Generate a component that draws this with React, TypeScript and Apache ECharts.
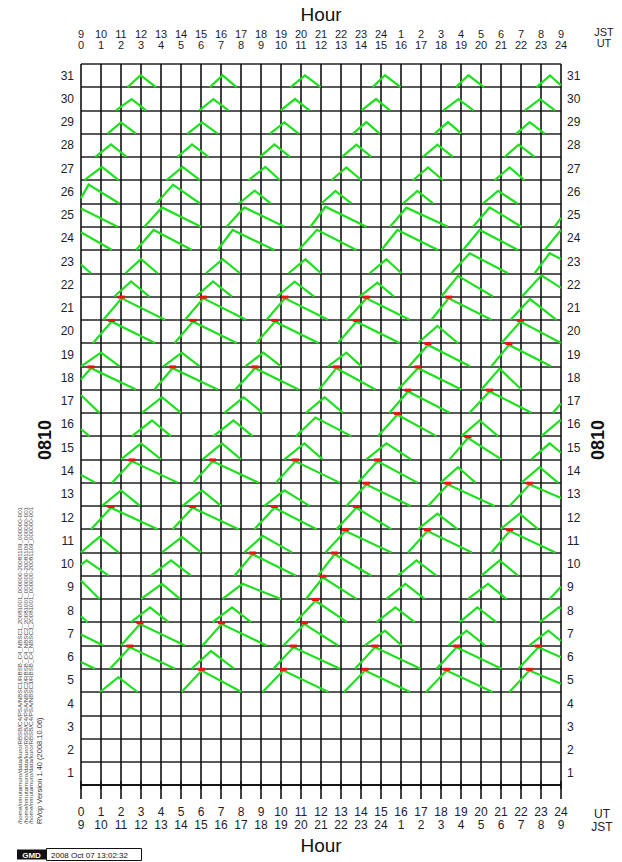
import React, { useEffect, useRef } from "react";
import * as echarts from "echarts";

const UT_LABELS = ["0","1","2","3","4","5","6","7","8","9","10","11","12","13","14","15","16","17","18","19","20","21","22","23","24"];
const JST_LABELS = ["9","10","11","12","13","14","15","16","17","18","19","20","21","22","23","24","1","2","3","4","5","6","7","8","9"];
const DAY_LABELS = ["1","2","3","4","5","6","7","8","9","10","11","12","13","14","15","16","17","18","19","20","21","22","23","24","25","26","27","28","29","30","31"];
const ROW_EDGES = [0,1,2,3,4,5,6,7,8,9,10,11,12,13,14,15,16,17,18,19,20,21,22,23,24,25,26,27,28,29,30,31];
const ROW_CENTERS = [0.5,1.5,2.5,3.5,4.5,5.5,6.5,7.5,8.5,9.5,10.5,11.5,12.5,13.5,14.5,15.5,16.5,17.5,18.5,19.5,20.5,21.5,22.5,23.5,24.5,25.5,26.5,27.5,28.5,29.5,30.5];

// each pass: [start UT, apex UT, apex height (fraction of the day row), end UT, red apex flag]
const D31 = [[2.33,2.98,0.51,3.75,0],[6.45,7.08,0.51,7.78,0],[10.48,11.2,0.51,11.98,0],[14.58,15.2,0.51,15.98,0],[18.75,19.37,0.51,20.15,0],[22.78,23.45,0.5,24.1,0]];
const D30 = [[1.75,2.53,0.49,3.25,0],[5.92,6.62,0.49,7.37,0],[9.98,10.7,0.49,11.42,0],[14.03,14.75,0.49,15.45,0],[18.12,18.87,0.49,19.62,0],[22.2,22.95,0.49,23.7,0]];
const D29 = [[1.33,2.0,0.49,2.75,0],[5.33,6.05,0.49,6.83,0],[9.45,10.17,0.49,10.88,0],[13.6,14.27,0.5,14.93,0],[17.68,18.35,0.5,19.02,0],[21.77,22.43,0.5,23.18,0]];
const D28 = [[0.72,1.5,0.54,2.28,0],[4.83,5.55,0.54,6.38,0],[8.95,9.67,0.54,10.45,0],[13.05,13.77,0.53,14.52,0],[17.1,17.82,0.53,18.6,0],[21.18,21.88,0.53,22.68,0]];
const D27 = [[0.17,1.05,0.57,1.88,0],[4.28,5.08,0.57,5.95,0],[8.38,9.22,0.57,9.95,0],[12.52,13.27,0.55,14.02,0],[16.6,17.35,0.55,18.1,0],[20.68,21.43,0.55,22.18,0]];
const D26 = [[-0.15,0.38,0.81,1.92,0],[3.77,4.6,0.81,5.95,0],[7.9,8.68,0.55,9.48,0],[12.02,12.72,0.54,13.52,0],[16.1,16.82,0.54,17.6,0],[20.1,20.85,0.54,21.82,0]];
const D25 = [[-1.0,-0.15,0.85,1.83,0],[3.17,4.05,0.83,6.0,0],[7.28,8.17,0.83,10.17,0],[11.47,12.22,0.86,14.27,0],[15.45,16.27,0.82,18.35,0],[19.6,20.43,0.83,22.02,0],[23.68,24.4,0.85,26.4,0]];
const D24 = [[-1.0,-0.2,0.86,1.55,0],[2.75,3.63,0.86,5.55,0],[6.83,7.58,0.86,9.67,0],[10.88,11.8,0.87,13.77,0],[15.02,15.82,0.86,17.85,0],[19.1,19.93,0.86,21.85,0],[23.18,24.0,0.86,26.0,0]];
const D23 = [[-1.1,-0.3,0.6,0.5,0],[2.22,3.0,0.61,3.83,0],[6.25,7.08,0.61,7.95,0],[10.38,11.22,0.6,12.0,0],[14.43,15.27,0.6,16.02,0],[18.52,19.43,0.86,21.35,0],[22.68,23.43,0.86,25.4,0]];
const D22 = [[1.67,2.5,0.65,3.42,0],[5.75,6.6,0.65,7.55,0],[9.8,10.68,0.64,11.66,0],[13.93,14.82,0.6,15.65,0],[18.02,18.85,0.89,20.6,0],[22.05,23.02,0.91,24.68,0]];
const D21 = [[1.12,2.03,0.92,4.2,1],[5.2,6.12,0.92,8.25,1],[9.28,10.2,0.92,12.35,1],[13.3,14.27,0.92,16.43,1],[17.52,18.38,0.92,20.52,1],[21.48,22.45,0.89,23.77,0]];
const D20 = [[0.6,1.53,0.92,3.7,1],[4.68,5.6,0.92,7.78,1],[8.77,9.7,0.92,11.87,1],[12.85,13.77,0.92,15.93,1],[16.85,17.82,0.74,18.85,0],[21.02,21.97,0.92,24.0,1]];
const D19 = [[0.0,1.0,0.59,1.93,0],[4.12,5.04,0.59,5.93,0],[8.22,9.12,0.59,10.0,0],[12.35,13.27,0.59,14.02,0],[16.4,17.35,0.92,19.45,1],[20.52,21.4,0.92,23.5,1]];
const D18 = [[-0.45,0.5,0.92,2.75,1],[3.67,4.58,0.92,6.83,1],[7.72,8.7,0.92,10.88,1],[11.9,12.77,0.92,14.72,1],[15.85,16.85,0.92,19.02,1],[20.02,20.93,0.9,22.02,0]];
const D17 = [[-1.0,-0.1,0.85,0.92,0],[3.05,4.05,0.67,5.0,0],[7.17,8.13,0.67,9.08,0],[11.25,12.18,0.67,13.1,0],[15.43,16.35,0.92,18.43,1],[19.43,20.43,0.92,22.52,1],[23.6,24.5,0.9,26.5,0]];
const D16 = [[-1.4,-0.5,0.67,0.42,0],[2.55,3.55,0.67,4.5,0],[6.62,7.62,0.67,8.58,0],[10.75,11.72,0.8,13.52,0],[14.85,15.82,0.92,17.77,1],[19.02,19.93,0.67,20.85,0],[23.02,23.95,0.67,24.9,0]];
const D15 = [[2.0,3.0,0.69,4.0,0],[6.08,7.05,0.69,8.0,0],[10.17,11.17,0.69,12.08,0],[14.27,15.27,0.69,16.5,0],[18.43,19.35,0.92,21.02,1],[22.52,23.43,0.69,24.4,0]];
const D14 = [[-2.2,-1.3,0.92,0.72,0],[1.55,2.55,0.92,4.83,1],[5.62,6.58,0.92,8.88,1],[9.75,10.72,0.92,12.93,1],[13.85,14.82,0.92,16.82,1],[17.98,18.85,0.66,19.72,0],[22.02,22.93,0.66,23.85,0]];
const D13 = [[1.05,2.0,0.67,2.95,0],[5.08,6.05,0.67,7.0,0],[9.17,10.17,0.67,11.42,0],[13.27,14.27,0.92,16.48,1],[17.35,18.35,0.92,20.68,1],[21.43,22.43,0.92,24.9,1]];
const D12 = [[0.5,1.5,0.92,3.83,1],[4.58,5.58,0.92,7.88,1],[8.67,9.67,0.92,11.78,1],[12.77,13.77,0.92,15.52,1],[16.85,17.82,0.67,18.82,0],[20.98,21.93,0.67,22.85,0]];
const D11 = [[0.0,0.92,0.67,1.88,0],[4.05,5.05,0.67,6.0,0],[8.17,9.08,0.71,10.55,0],[12.22,13.22,0.92,15.52,1],[16.35,17.32,0.92,19.55,1],[20.52,21.43,0.92,23.72,1]];
const D10 = [[-0.65,0.28,0.66,1.38,0],[3.5,4.5,0.66,5.5,0],[7.67,8.58,0.92,10.75,1],[11.85,12.68,0.92,14.52,1],[15.85,16.77,0.66,17.77,0],[20.02,20.93,0.66,21.85,0]];
const D09 = [[-1.1,-0.15,0.92,0.92,0],[3.0,4.05,0.65,4.95,0],[7.08,8.08,0.65,10.0,0],[11.25,12.1,0.92,13.77,1],[15.27,16.22,0.65,17.18,0],[19.35,20.35,0.65,21.27,0],[23.43,24.4,0.9,26.0,0]];
const D08 = [[-1.5,-0.5,0.65,0.33,0],[2.5,3.45,0.64,4.38,0],[6.58,7.55,0.64,8.5,0],[10.72,11.72,0.92,13.3,1],[14.77,15.72,0.64,16.68,0],[18.93,19.82,0.64,20.77,0],[22.93,23.9,0.65,24.8,0]];
const D07 = [[-2.0,-1.05,0.92,1.12,0],[2.0,2.95,0.92,5.2,1],[6.08,7.03,0.92,9.28,1],[10.12,11.17,0.92,12.85,1],[14.2,15.2,0.64,16.03,0],[18.37,19.28,0.64,20.2,0],[22.42,23.37,0.64,24.27,0]];
const D06 = [[-2.5,-1.5,0.92,0.7,0],[1.45,2.45,0.92,4.7,1],[5.53,6.5,0.76,7.65,0],[9.62,10.62,0.92,12.95,1],[13.7,14.7,0.92,16.98,1],[17.78,18.78,0.92,21.03,1],[21.87,22.87,0.92,25.3,1]];
const D05 = [[0.95,1.87,0.64,2.82,0],[5.03,6.03,0.92,8.03,1],[9.08,10.12,0.92,12.37,1],[13.15,14.2,0.92,16.45,1],[17.25,18.28,0.92,20.58,1],[21.42,22.42,0.92,25.0,1]];

const PASS_DAYS: [number, number[][]][] = [
  [31, D31], [30, D30], [29, D29], [28, D28], [27, D27], [26, D26], [25, D25], [24, D24], [23, D23],
  [22, D22], [21, D21], [20, D20], [19, D19], [18, D18], [17, D17], [16, D16], [15, D15], [14, D14],
  [13, D13], [12, D12], [11, D11], [10, D10], [9, D09], [8, D08], [7, D07], [6, D06], [5, D05],
];

const PATH_LINES = [
  "/home/nmutamuro/data/kuro/RBSB/C4/PSA/NBSC1/RBSB_C4_NBSC1_20081001_000000-20081109_000000-001",
  "/home/nmutamuro/data/kuro/RBSB/C4/PSA/NBSC2/RBSB_C4_NBSC2_20081001_000000-20081109_000000-001",
  "/home/nmutamuro/data/kuro/RBSB/C4/PSA/NBSC3/RBSB_C4_NBSC3_20081001_000000-20081109_000000-001",
];

const GREEN = "#1fe01f";
const INK = "#1d1d2b";
const FONT = "Liberation Sans, Arial, sans-serif";

function clipX(pts: number[][], lo: number, hi: number): number[][] {
  const out: number[][] = [];
  for (let i = 0; i < pts.length - 1; i++) {
    const [x1, y1] = pts[i];
    const [x2, y2] = pts[i + 1];
    if (x2 < lo || x1 > hi) continue;
    const f = (x: number) => (x2 === x1 ? y1 : y1 + ((y2 - y1) * (x - x1)) / (x2 - x1));
    const ax = Math.max(x1, lo);
    const bx = Math.min(x2, hi);
    const p1 = [ax, f(ax)];
    const p2 = [bx, f(bx)];
    if (!out.length || out[out.length - 1][0] !== p1[0]) out.push(p1);
    out.push(p2);
  }
  return out;
}

export default function App() {
  const ref = useRef<HTMLDivElement>(null);
  useEffect(() => {
    if (!ref.current) return;
    const chart = echarts.init(ref.current, null, { renderer: "svg" });
    const data: number[][] = [];
    PASS_DAYS.forEach(([day, passes]) => {
      passes.forEach((p) => data.push([p[0], p[1], p[2], p[3], p[4], day]));
    });
    const labelFont = { fontFamily: FONT, fontSize: 12, color: INK };
    const graphics: any[] = [
      { type: "text", x: 604, y: 32, style: { text: "JST", fontFamily: FONT, fontSize: 11, fill: INK, align: "center", verticalAlign: "middle" } },
      { type: "text", x: 604, y: 43, style: { text: "UT", fontFamily: FONT, fontSize: 11, fill: INK, align: "center", verticalAlign: "middle" } },
      { type: "text", x: 602, y: 813.5, style: { text: "UT", fontFamily: FONT, fontSize: 12, fill: INK, align: "center", verticalAlign: "middle" } },
      { type: "text", x: 602, y: 826.5, style: { text: "JST", fontFamily: FONT, fontSize: 12, fill: INK, align: "center", verticalAlign: "middle" } },
      { type: "text", x: 45, y: 440, rotation: Math.PI / 2, style: { text: "0810", fontFamily: FONT, fontSize: 18, fontWeight: "bold", fill: "#111", align: "center", verticalAlign: "middle" } },
      { type: "text", x: 598, y: 440, rotation: Math.PI / 2, style: { text: "0810", fontFamily: FONT, fontSize: 18, fontWeight: "bold", fill: "#111", align: "center", verticalAlign: "middle" } },
      { type: "text", x: 39.5, y: 824, rotation: Math.PI / 2, style: { text: "RVop Version 1.40 (2008.10.06)", fontFamily: FONT, fontSize: 7.5, fill: "#333", align: "left", verticalAlign: "middle" } },
      { type: "rect", shape: { x: 17, y: 849.5, width: 29, height: 10 }, style: { fill: "#111" } },
      { type: "text", x: 31.5, y: 855, style: { text: "GMD", fontFamily: FONT, fontSize: 8, fontWeight: "bold", fill: "#fff", align: "center", verticalAlign: "middle" } },
      { type: "rect", shape: { x: 46.5, y: 848.5, width: 95, height: 12 }, style: { fill: "none", stroke: "#111", lineWidth: 1 } },
      { type: "text", x: 51, y: 855, style: { text: "2008 Oct 07 13:02:32", fontFamily: FONT, fontSize: 8, fill: "#111", align: "left", verticalAlign: "middle" } },
    ];
    PATH_LINES.forEach((t, i) => {
      graphics.push({ type: "text", x: 19.5 + i * 5.5, y: 824, rotation: Math.PI / 2, style: { text: t, fontFamily: FONT, fontSize: 6.2, fill: "#444", align: "left", verticalAlign: "middle" } });
    });

    chart.setOption({
      animation: false,
      backgroundColor: "#ffffff",
      grid: { left: 81, top: 61, width: 480, height: 738, containLabel: false },
      xAxis: [
        {
          type: "value", position: "bottom", min: 0, max: 24, interval: 1,
          name: "Hour", nameLocation: "middle", nameGap: 35,
          nameTextStyle: { fontFamily: FONT, fontSize: 19, color: "#111" },
          axisLine: { show: true, lineStyle: { color: "#111", width: 1.5 } },
          axisTick: { show: true, length: 4, lineStyle: { color: "#111", width: 1.5 } },
          splitLine: { show: true, lineStyle: { color: "#111", width: 1.6 } },
          axisLabel: {
            ...labelFont, margin: 7, lineHeight: 12.5, showMinLabel: true, showMaxLabel: true,
            formatter: (v: number) => `${UT_LABELS[Math.round(v)]}\n${JST_LABELS[Math.round(v)]}`,
          },
        },
        {
          type: "value", position: "top", min: 0, max: 24, interval: 1,
          name: "Hour", nameLocation: "middle", nameGap: 38,
          nameTextStyle: { fontFamily: FONT, fontSize: 19, color: "#111" },
          axisLine: { show: true, lineStyle: { color: "#111", width: 1.5 } },
          axisTick: { show: true, length: 4, lineStyle: { color: "#111", width: 1.5 } },
          splitLine: { show: false },
          axisLabel: {
            ...labelFont, fontSize: 11, margin: 13, lineHeight: 11, showMinLabel: true, showMaxLabel: true,
            formatter: (v: number) => `${JST_LABELS[Math.round(v)]}\n${UT_LABELS[Math.round(v)]}`,
          },
        },
      ],
      yAxis: [
        {
          type: "value", position: "left", min: -0.6, max: 31,
          axisLine: { show: false },
          axisTick: { show: false, customValues: ROW_EDGES },
          splitLine: { show: true, lineStyle: { color: "#222", width: 1.5 } },
          axisLabel: {
            ...labelFont, margin: 7, customValues: ROW_CENTERS,
            formatter: (v: number) => DAY_LABELS[Math.round(v - 0.5)] ?? "",
          },
        },
        {
          type: "value", position: "right", min: -0.6, max: 31,
          axisLine: { show: false },
          axisTick: { show: false, customValues: ROW_EDGES },
          splitLine: { show: false },
          axisLabel: {
            ...labelFont, margin: 6, customValues: ROW_CENTERS,
            formatter: (v: number) => DAY_LABELS[Math.round(v - 0.5)] ?? "",
          },
        },
      ],
      series: [
        {
          type: "custom",
          xAxisIndex: 0,
          yAxisIndex: 0,
          silent: true,
          data,
          renderItem: (_params: any, api: any) => {
            const s = api.value(0), a = api.value(1), h = api.value(2), e = api.value(3);
            const red = api.value(4), day = api.value(5);
            const base = day - 1;
            const pts = clipX([[s, base], [a, base + h], [e, base]], 0, 24).map((p) => api.coord(p));
            const children: any[] = [];
            if (pts.length >= 2) {
              children.push({ type: "polyline", shape: { points: pts }, style: { stroke: GREEN, lineWidth: 2.2, fill: "none", lineJoin: "miter" } });
            }
            if (red && a >= 0 && a <= 24) {
              const c = api.coord([a, base + 0.975]);
              children.push({ type: "rect", shape: { x: c[0] - 3.5, y: c[1] - 1.5, width: 7, height: 3 }, style: { fill: "#f01010" } });
            }
            return { type: "group", children };
          },
        },
      ],
      graphic: graphics,
    });
    return () => chart.dispose();
  }, []);
  return <div ref={ref} style={{ position: "fixed", left: 0, top: 0, width: 622, height: 862, background: "#fff" }} />;
}
